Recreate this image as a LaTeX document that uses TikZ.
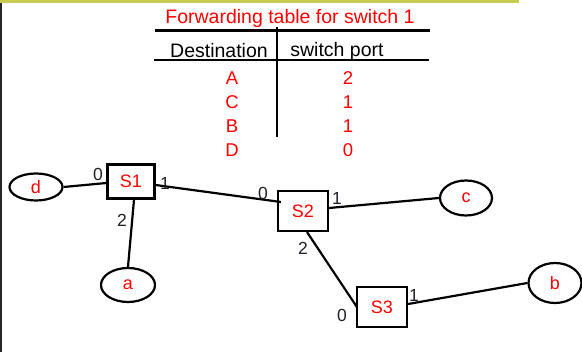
\documentclass[tikz,border=0pt]{standalone}
\usepackage{fontspec}
\setmainfont{Liberation Sans}
\usetikzlibrary{calc,shapes.geometric}
\definecolor{barolive}{HTML}{C8CC50}
\definecolor{tabred}{HTML}{FF0000}
\definecolor{portgray}{HTML}{202028}
\begin{document}
\begin{tikzpicture}[x=1pt,y=-1pt,
  sw/.style={draw=black,line width=2.2pt,minimum width=47pt,minimum height=34pt,inner sep=0pt,text=tabred,font=\fontsize{18}{20}\selectfont},
  host/.style={draw=black,line width=2.2pt,ellipse,inner sep=0pt,text=tabred,font=\fontsize{18}{20}\selectfont},
  link/.style={line width=2.2pt,black},
  port/.style={text=portgray,font=\fontsize{17.5}{20}\selectfont,inner sep=0pt},
  rule/.style={line width=2.2pt,black},
  entry/.style={text=tabred,font=\fontsize{18.5}{20}\selectfont,inner sep=0pt},
  head/.style={text=black,font=\fontsize{19.5}{22}\selectfont,inner sep=0pt}]
\useasboundingbox[fill=white] (0,0) rectangle (582,352);
% frame: olive bar along the top, dark rule on the left
\fill[barolive] (0,0) rectangle (519,2.7);
\fill[black!85] (0,2.7) rectangle (2.2,352);

% forwarding table
\node[text=tabred,font=\fontsize{19.5}{22}\selectfont,inner sep=0pt] (title) at (290,18) {Forwarding table for switch 1};
\coordinate (r1l) at (155,30.5);
\coordinate (r1r) at (430,30.5);
\coordinate (r2l) at (154,60);
\coordinate (r2r) at (429,60);
\coordinate (vt) at (277,27);
\coordinate (vb) at (277,137);
\draw[rule] (r1l) -- (r1r);
\draw[rule] (r2l) -- (r2r);
\draw[rule] (vt) -- (vb);
\node[head] (hdest) at (219,51) {Destination};
\node[head] (hport) at (337,51) {switch port};
\node[entry] (dA) at (232,78) {A};
\node[entry] (dC) at (232,102) {C};
\node[entry] (dB) at (232,126) {B};
\node[entry] (dD) at (232,150) {D};
\node[entry] (pA) at (348,78) {2};
\node[entry] (pC) at (348,102) {1};
\node[entry] (pB) at (348,126) {1};
\node[entry] (pD) at (348,150) {0};

% switches
\node[sw] (S1) at (131,181.5) {S1};
\node[sw,minimum width=50pt,minimum height=40pt] (S2) at (303,211) {S2};
\node[sw,minimum width=50pt,minimum height=40pt] (S3) at (382,307) {S3};

% hosts
\node[host,minimum width=53pt,minimum height=27pt] (d) at (36,187) {d};
\node[host,minimum width=54pt,minimum height=34pt] (a) at (128,285) {a};
\node[host,minimum width=52pt,minimum height=35pt] (c) at (466,198) {c};
\node[host,minimum width=53pt,minimum height=40pt] (b) at (555,283) {b};

% links
\draw[link] (d.east) -- ([yshift=-1.5pt]S1.west);
\draw[link] (a.north) -- ([xshift=3pt]S1.south);
\draw[link] ([yshift=-3.5pt]S1.east) -- ([xshift=4pt,yshift=9pt]S2.west);
\draw[link] ([yshift=3pt]S2.east) -- (c.west);
\draw[link] ([xshift=4pt]S2.south) -- ([xshift=1pt]S3.west);
\draw[link] ([yshift=3pt]S3.east) -- (b.west);

% port numbers
\node[port] (p10) at (98,174) {0};
\node[port] (p11) at (165,183) {1};
\node[port] (p12) at (122,220) {2};
\node[port] (p20) at (263,193) {0};
\node[port] (p21) at (337,198) {1};
\node[port] (p22) at (303,248) {2};
\node[port] (p30) at (342,315) {0};
\node[port] (p31) at (414,295) {1};
\end{tikzpicture}
\end{document}
